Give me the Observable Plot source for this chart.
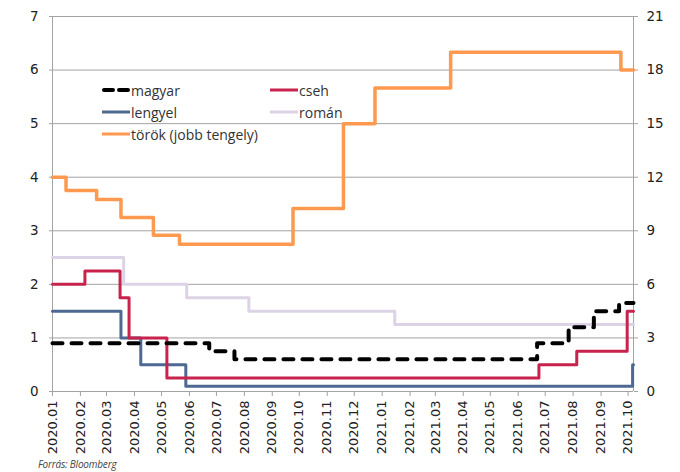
<!DOCTYPE html>
<html>
<head>
<meta charset="utf-8">
<script src="https://cdn.jsdelivr.net/npm/d3@7"></script>
<script src="https://cdn.jsdelivr.net/npm/@observablehq/plot@0.6"></script>
<style>
  html, body { margin: 0; padding: 0; background: #fff; }
  #wrap { position: relative; width: 680px; height: 472px; overflow: hidden; }
  #legend { position: absolute; left: 0; top: 0; width: 680px; height: 160px; pointer-events: none;
            font-family: "Open Sans", Lato, sans-serif; font-size: 14px; color: #333; }
  .item { position: absolute; display: flex; align-items: center; white-space: nowrap; height: 18px; }
  .item svg { display: block; margin-right: 1px; }
  #caption { position: absolute; left: 38px; top: 457px; font-family: "Open Sans", sans-serif; font-style: italic;
             font-size: 10px; color: #444; letter-spacing: -0.2px; }
</style>
</head>
<body>
<div id="wrap">
  <div id="chart"></div>
  <div id="legend"></div>
  <div id="caption">Forrás: Bloomberg</div>
</div>
<script>
// ---- data ----
const seriesNames = ["magyar", "cseh", "lengyel", "román", "török (jobb tengely)"];

const magyarDates = ["2020-01-01","2020-06-23","2020-07-21","2021-06-22","2021-07-27","2021-08-24","2021-09-21","2021-10-07"];
const magyarRates = [0.9, 0.75, 0.6, 0.9, 1.2, 1.5, 1.65, 1.65];

const csehDates = ["2020-01-01","2020-02-06","2020-03-16","2020-03-26","2020-05-07","2021-06-24","2021-08-05","2021-09-30","2021-10-07"];
const csehRates = [2.0, 2.25, 1.75, 1.0, 0.25, 0.5, 0.75, 1.5, 1.5];

const lengyelDates = ["2020-01-01","2020-03-17","2020-04-08","2020-05-28","2021-10-06","2021-10-07"];
const lengyelRates = [1.5, 1.0, 0.5, 0.1, 0.5, 0.5];

const romanDates = ["2020-01-01","2020-03-20","2020-05-29","2020-08-06","2021-01-15","2021-10-07"];
const romanRates = [2.5, 2.0, 1.75, 1.5, 1.25, 1.25];

const torokDates = ["2020-01-01","2020-01-16","2020-02-19","2020-03-17","2020-04-22","2020-05-21","2020-09-24","2020-11-19","2020-12-24","2021-03-18","2021-09-23","2021-10-07"];
const torokRates = [12, 11.25, 10.75, 9.75, 8.75, 8.25, 10.25, 15, 17, 19, 18, 18];

const leftTicks = [0, 1, 2, 3, 4, 5, 6, 7];
const rightFactor = 3; // right axis 0..21 vs left 0..7
const xStart = "2020-01-01", xEnd = "2021-10-07";

const colors = {
  magyar: "#000000",
  cseh: "#c8234c",
  lengyel: "#4d6891",
  "román": "#dcd3e7",
  "török (jobb tengely)": "#fd9a4f"
};

// ---- build tables ----
const P = d3.utcParse("%Y-%m-%d");
const mk = (dates, vals, scale = 1) => dates.map((d, i) => ({date: P(d), v: vals[i] / scale}));
const magyar = mk(magyarDates, magyarRates);
const cseh = mk(csehDates, csehRates);
const lengyel = mk(lengyelDates, lengyelRates);
const roman = mk(romanDates, romanRates);
const torok = mk(torokDates, torokRates, rightFactor);

const months = d3.utcMonths(P(xStart), d3.utcDay.offset(P("2021-10-01"), 1));

const grid = "#a3a3a3";

const chart = Plot.plot({
  width: 680,
  height: 457,
  marginLeft: 52,
  marginRight: 47,
  marginTop: 16,
  marginBottom: 66,
  style: {fontFamily: "'DejaVu Sans', sans-serif", fontSize: "13px", color: "#222", background: "#fff"},
  x: {type: "utc", domain: [P(xStart), P(xEnd)]},
  y: {domain: [0, 7]},
  marks: [
    Plot.gridY(leftTicks.slice(1), {stroke: grid, strokeOpacity: 1, strokeWidth: 1}),
    Plot.axisY({ticks: leftTicks, tickFormat: d => String(d), tickSize: 3, tickPadding: 11, label: null, stroke: grid, fill: "#222", fontSize: 13.5}),
    Plot.axisY({anchor: "right", ticks: leftTicks, tickFormat: d => String(d * rightFactor), tickSize: 4, tickPadding: 9, label: null, stroke: grid, fill: "#222", fontSize: 13.5}),
    Plot.ruleX([P(xStart), P(xEnd)], {stroke: grid, strokeWidth: 1}),
    Plot.ruleY([0], {stroke: grid, strokeWidth: 1}),
    Plot.axisX({ticks: months, tickFormat: d3.utcFormat("%Y.%m"), tickRotate: -90, tickSize: 5, tickPadding: 4, label: null, stroke: grid, fill: "#222"}),
    Plot.line(roman, {x: "date", y: "v", curve: "step-after", stroke: colors["román"], strokeWidth: 3}),
    Plot.line(torok, {x: "date", y: "v", curve: "step-after", stroke: colors["török (jobb tengely)"], strokeWidth: 3.5}),
    Plot.line(lengyel, {x: "date", y: "v", curve: "step-after", stroke: colors.lengyel, strokeWidth: 3}),
    Plot.line(cseh, {x: "date", y: "v", curve: "step-after", stroke: colors.cseh, strokeWidth: 3}),
    Plot.line(magyar, {x: "date", y: "v", curve: "step-after", stroke: colors.magyar, strokeWidth: 4, strokeDasharray: "10,9", strokeLinecap: "round"})
  ]
});
document.getElementById("chart").appendChild(chart);

// ---- legend (inside plot area, as in the reference) ----
const legendPos = [
  {name: seriesNames[0], left: 102, top: 81},
  {name: seriesNames[1], left: 270, top: 81},
  {name: seriesNames[2], left: 102, top: 103},
  {name: seriesNames[3], left: 270, top: 103},
  {name: seriesNames[4], left: 102, top: 125}
];
const legend = document.getElementById("legend");
legendPos.forEach(p => {
  const div = document.createElement("div");
  div.className = "item";
  div.style.left = p.left + "px";
  div.style.top = p.top + "px";
  const c = colors[p.name];
  const sw = p.name === "magyar"
    ? `<svg width="28" height="8"><line x1="2" y1="4" x2="26" y2="4" stroke="${c}" stroke-width="4" stroke-linecap="round" stroke-dasharray="9,6"/></svg>`
    : `<svg width="28" height="8"><line x1="0" y1="4" x2="28" y2="4" stroke="${c}" stroke-width="3"/></svg>`;
  div.innerHTML = sw + `<span>${p.name}</span>`;
  legend.appendChild(div);
});
</script>
</body>
</html>
